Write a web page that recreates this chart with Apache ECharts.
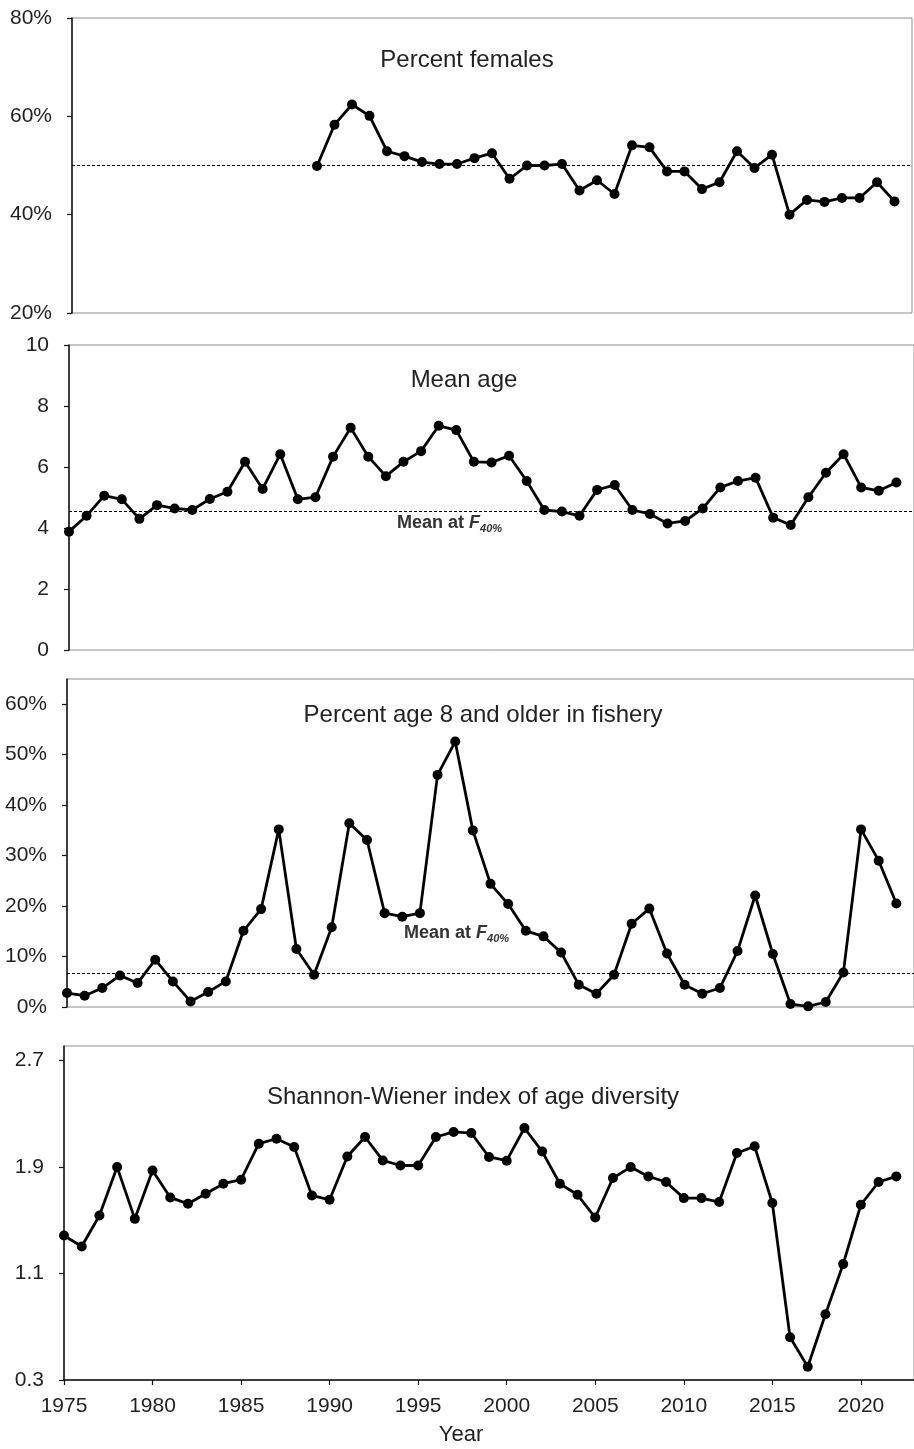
<!DOCTYPE html>
<html>
<head>
<meta charset="utf-8">
<script src="https://cdn.jsdelivr.net/npm/echarts@6/dist/echarts.min.js"></script>
<style>
  html, body { margin: 0; padding: 0; background: #fff; }
  #chart { width: 914px; height: 1449px; }
</style>
</head>
<body>
<div id="chart"></div>
<script>
// Survey years
const years = [1975, 1976, 1977, 1978, 1979, 1980, 1981, 1982, 1983, 1984,
  1985, 1986, 1987, 1988, 1989, 1990, 1991, 1992, 1993, 1994,
  1995, 1996, 1997, 1998, 1999, 2000, 2001, 2002, 2003, 2004,
  2005, 2006, 2007, 2008, 2009, 2010, 2011, 2012, 2013, 2014,
  2015, 2016, 2017, 2018, 2019, 2020, 2021, 2022];

// Percent females (sampled from 1989 on)
const pctFemales = [null, null, null, null, null, null, null, null, null, null,
  null, null, null, null, 49.9, 58.3, 62.4, 60.1, 52.9, 51.9,
  50.7, 50.3, 50.3, 51.5, 52.5, 47.3, 50.0, 50.0, 50.3, 44.9,
  47.0, 44.2, 54.1, 53.7, 48.8, 48.8, 45.2, 46.6, 52.9, 49.5,
  52.2, 40.0, 43.0, 42.6, 43.4, 43.4, 46.6, 42.7];

// Mean age in the fishery
const meanAge = [3.88, 4.40, 5.06, 4.94, 4.30, 4.75, 4.64, 4.59, 4.95, 5.19,
  6.17, 5.28, 6.42, 4.94, 5.01, 6.34, 7.29, 6.34, 5.70, 6.17,
  6.52, 7.35, 7.21, 6.17, 6.15, 6.37, 5.54, 4.59, 4.54, 4.40,
  5.25, 5.41, 4.59, 4.46, 4.15, 4.23, 4.64, 5.33, 5.54, 5.65,
  4.34, 4.10, 5.01, 5.81, 6.42, 5.33, 5.22, 5.49];

// Percent of catch aged 8 and older
const pctAge8Plus = [2.77, 2.24, 3.76, 6.26, 4.75, 9.37, 5.07, 1.11, 2.97, 5.07,
  15.1, 19.4, 35.2, 11.5, 6.40, 15.8, 36.4, 33.1, 18.6, 17.9,
  18.6, 46.0, 52.6, 35.0, 24.4, 20.4, 15.1, 14.0, 10.8, 4.42,
  2.63, 6.40, 16.5, 19.5, 10.6, 4.42, 2.63, 3.76, 11.1, 22.1,
  10.5, 0.59, 0.13, 0.99, 6.85, 35.2, 29.0, 20.5];

// Shannon-Wiener index of age diversity
const shannon = [1.386, 1.303, 1.536, 1.900, 1.511, 1.875, 1.672, 1.624, 1.700, 1.775,
  1.805, 2.076, 2.113, 2.051, 1.687, 1.654, 1.980, 2.126, 1.950, 1.912,
  1.912, 2.126, 2.164, 2.156, 1.976, 1.948, 2.194, 2.018, 1.775, 1.692,
  1.521, 1.818, 1.900, 1.830, 1.788, 1.667, 1.667, 1.637, 2.006, 2.056,
  1.630, 0.621, 0.400, 0.794, 1.171, 1.617, 1.788, 1.830];

// Reference levels
const femaleRef = 50;
const meanAgeF40 = 4.56;
const age8PlusF40 = 6.73;

// Tick labels
const yearTicks = [1975, 1980, 1985, 1990, 1995, 2000, 2005, 2010, 2015, 2020];
const femaleTicks = [20, 40, 60, 80];
const ageTicks = [0, 2, 4, 6, 8, 10];
const age8Ticks = [0, 10, 20, 30, 40, 50, 60];
const shannonTicks = [0.3, 1.1, 1.9, 2.7];

const FONT = '"Liberation Sans", Arial, sans-serif';
const TXT = '#1f1f1f';

const grids = [
  { left: 72, top: 18, width: 840, height: 295 },
  { left: 69, top: 345, width: 850, height: 305 },
  { left: 67, top: 679, width: 852, height: 328 },
  { left: 64, top: 1046, width: 854, height: 334 }
].map(g => Object.assign({ show: true, borderColor: '#8f8f8f', borderWidth: 1, backgroundColor: 'transparent' }, g));

function xAxisFor(i, withLabels) {
  return {
    type: 'value', gridIndex: i, min: 1975, max: 2023,
    splitLine: { show: false },
    axisLine: { show: withLabels, onZero: false, lineStyle: { color: '#111', width: 1.5 } },
    axisTick: { show: withLabels, inside: false, length: 5, customValues: yearTicks, lineStyle: { color: '#111', width: 1.2 } },
    axisLabel: { show: withLabels, customValues: yearTicks, margin: 16, fontSize: 21, fontFamily: FONT, color: TXT,
      formatter: v => String(v) }
  };
}

function yAxisFor(i, min, max, ticks, fmt) {
  return {
    type: 'value', gridIndex: i, min: min, max: max,
    splitLine: { show: false },
    axisLine: { show: true, onZero: false, lineStyle: { color: '#111', width: 1.5 } },
    axisTick: { show: true, inside: false, length: 5, customValues: ticks, lineStyle: { color: '#111', width: 1.2 } },
    axisLabel: { customValues: ticks, margin: 20, fontSize: 21, fontFamily: FONT, color: TXT, formatter: fmt }
  };
}

function lineSeries(i, values, ref) {
  const s = {
    type: 'line', xAxisIndex: i, yAxisIndex: i,
    data: years.map((y, k) => [y, values[k]]),
    connectNulls: false,
    symbol: 'circle', symbolSize: 10,
    lineStyle: { color: '#000', width: 2.8 },
    itemStyle: { color: '#000' },
    z: 5
  };
  if (ref !== undefined) {
    s.markLine = {
      silent: true, symbol: 'none', label: { show: false },
      lineStyle: { color: '#000', width: 1.2, type: [3, 2] },
      data: [{ yAxis: ref }]
    };
  }
  return s;
}

function panelTitle(text, x, y) {
  return { type: 'text', x: x, y: y, z: 10,
    style: { text: text, fill: '#222', font: '24px ' + FONT, align: 'center', verticalAlign: 'middle' } };
}

function f40Label(x, y) {
  return { type: 'text', x: x, y: y, z: 10,
    style: {
      text: '{a|Mean at }{f|F}{s|40%}',
      align: 'left', verticalAlign: 'middle',
      rich: {
        a: { font: 'bold 18px ' + FONT, fill: '#333', lineHeight: 22 },
        f: { font: 'italic bold 18px ' + FONT, fill: '#333', lineHeight: 22 },
        s: { font: 'italic bold 11px ' + FONT, fill: '#333', lineHeight: 13, verticalAlign: 'bottom' }
      }
    } };
}

const pct = v => v + '%';

const option = {
  animation: false,
  backgroundColor: '#fff',
  grid: grids,
  xAxis: [xAxisFor(0, false), xAxisFor(1, false), xAxisFor(2, false), xAxisFor(3, true)],
  yAxis: [
    yAxisFor(0, 20, 80, femaleTicks, pct),
    yAxisFor(1, 0, 10, ageTicks, v => String(v)),
    yAxisFor(2, 0, 65, age8Ticks, pct),
    yAxisFor(3, 0.3, 2.81, shannonTicks, v => Number(v).toFixed(1))
  ],
  series: [
    lineSeries(0, pctFemales, femaleRef),
    lineSeries(1, meanAge, meanAgeF40),
    lineSeries(2, pctAge8Plus, age8PlusF40),
    lineSeries(3, shannon)
  ],
  graphic: [
    panelTitle('Percent females', 467, 60),
    panelTitle('Mean age', 464, 380),
    panelTitle('Percent age 8 and older in fishery', 483, 715),
    panelTitle('Shannon-Wiener index of age diversity', 473, 1097),
    f40Label(397, 523),
    f40Label(404, 933),
    { type: 'text', x: 461, y: 1435, z: 10,
      style: { text: 'Year', fill: '#222', font: '22px ' + FONT, align: 'center', verticalAlign: 'middle' } }
  ]
};

const chart = echarts.init(document.getElementById('chart'), null, { renderer: 'canvas' });
chart.setOption(option);
</script>
</body>
</html>
